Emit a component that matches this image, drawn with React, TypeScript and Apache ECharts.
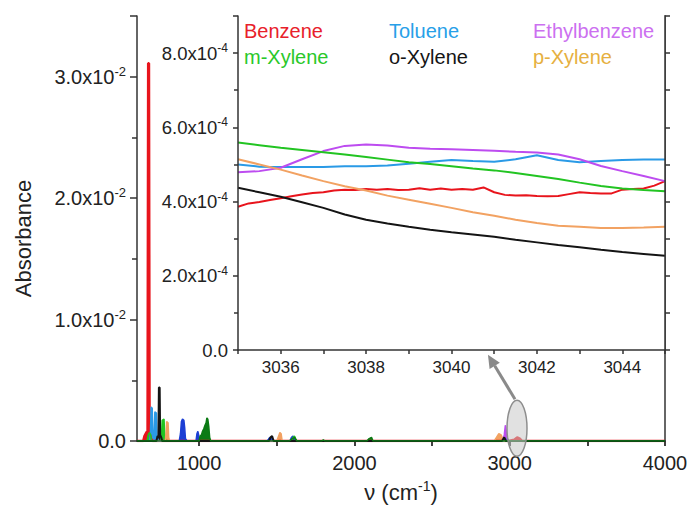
import React, { useEffect, useRef } from "react";
import * as echarts from "echarts";

const FONT = '"Liberation Sans", Arial, Helvetica, sans-serif';

// ---------- Main spectrum (wavenumber cm^-1, absorbance) ----------
const benzeneFull = [[600, 0], [640, 0], [648, 0.0004], [660, 0.0007], [668, 0.0008], [672, 0.0311], [677, 0.0311], [681, 0.0006], [690, 0.0002], [700, 0], [2990, 0], [3030, 0.0001], [3048, 0.0003], [3065, 0.0002], [3080, 0], [4000, 0]];
const tolueneFull = [[600, 0], [682, 0], [687, 0.0008], [691, 0.0028], [698, 0.0027], [702, 0.0006], [710, 0.0004], [715, 0.0024], [725, 0.0023], [729, 0.0003], [740, 0], [1440, 0], [1450, 0.0002], [1462, 0.0002], [1475, 0], [2960, 0], [2975, 0.0002], [2990, 0.0001], [3000, 0], [4000, 0]];
const bandSetA = [[600, 0], [872, 0], [880, 0.0006], [886, 0.0016], [893, 0.0018], [902, 0.0017], [907, 0.0011], [912, 0.0002], [922, 0], [980, 0], [986, 0.0006], [992, 0.0008], [997, 0.0005], [1002, 0], [1440, 0], [1455, 0.0003], [1470, 0.0001], [1480, 0], [1585, 0], [1595, 0.0003], [1605, 0.0004], [1615, 0.0001], [1625, 0], [2975, 0], [2985, 0.0002], [2995, 0], [4000, 0]];
const mXyleneFull = [[600, 0], [665, 0], [672, 0.0005], [680, 0.0007], [688, 0.0005], [694, 0], [750, 0], [758, 0.0004], [762, 0.0017], [774, 0.0018], [779, 0.0004], [786, 0], [1595, 0], [1605, 0.0003], [1615, 0.0004], [1625, 0], [4000, 0]];
const oXyleneFull = [[600, 0], [725, 0], [732, 0.0004], [738, 0.0004], [741, 0.0044], [746, 0.0044], [749, 0.0005], [756, 0.0003], [762, 0], [1450, 0], [1460, 0.0003], [1470, 0.0004], [1480, 0], [2950, 0], [2965, 0.0003], [2975, 0], [4000, 0]];
const pXyleneFull = [[600, 0], [782, 0], [788, 0.0008], [791, 0.0016], [800, 0.0015], [804, 0.0003], [810, 0], [1500, 0], [1512, 0.0004], [1520, 0.0007], [1528, 0.0006], [1535, 0], [2900, 0], [2915, 0.0003], [2930, 0.0006], [2945, 0.0005], [2955, 0.0002], [2965, 0], [4000, 0]];
const ethylbenzeneFull = [[600, 0], [2955, 0], [2965, 0.0005], [2972, 0.0013], [2978, 0.0008], [2985, 0], [4000, 0]];
const bandSetB = [[600, 0], [1000, 0], [1006, 0.0004], [1015, 0.0005], [1022, 0.0008], [1030, 0.001], [1038, 0.0013], [1045, 0.0015], [1050, 0.0019], [1056, 0.0018], [1062, 0.0012], [1068, 0.0003], [1075, 0], [1580, 0], [1600, 0.0002], [1615, 0.0003], [1630, 0], [1790, 0], [1800, 0.0001], [1810, 0], [2080, 0], [2095, 0.0002], [2110, 0.0003], [2120, 0], [4000, 0]];

const mainXLabels = [1000, 2000, 3000, 4000];
const mainXTicks = [1000, 1500, 2000, 2500, 3000, 3500, 4000];

// ---------- Inset (3035-3045 cm^-1), values in units of 1e-4 ----------
const insetX = [3035, 3035.5, 3036, 3036.5, 3037, 3037.5, 3038, 3038.5, 3039, 3039.5, 3040, 3040.5, 3041, 3041.5, 3042, 3042.5, 3043, 3043.5, 3044, 3044.5, 3045];
const insetXFine = [3035, 3035.25, 3035.5, 3035.75, 3036, 3036.25, 3036.5, 3036.75, 3037, 3037.25, 3037.5, 3037.75, 3038, 3038.25, 3038.5, 3038.75, 3039, 3039.25, 3039.5, 3039.75, 3040, 3040.25, 3040.5, 3040.75, 3041, 3041.25, 3041.5, 3041.75, 3042, 3042.25, 3042.5, 3042.75, 3043, 3043.25, 3043.5, 3043.75, 3044, 3044.25, 3044.5, 3044.75, 3045];
const benzeneInset = [3.86, 3.95, 3.99, 4.04, 4.09, 4.14, 4.19, 4.23, 4.25, 4.3, 4.32, 4.31, 4.34, 4.32, 4.34, 4.31, 4.32, 4.36, 4.32, 4.35, 4.32, 4.34, 4.32, 4.38, 4.25, 4.18, 4.16, 4.17, 4.15, 4.14, 4.15, 4.2, 4.25, 4.23, 4.22, 4.22, 4.32, 4.34, 4.35, 4.43, 4.55];
const tolueneInset = [5.0, 4.94, 4.93, 4.93, 4.93, 4.95, 4.95, 4.97, 5.02, 5.07, 5.12, 5.09, 5.07, 5.14, 5.25, 5.12, 5.06, 5.09, 5.12, 5.13, 5.13];
const ethylbenzeneInset = [4.79, 4.82, 4.91, 5.14, 5.36, 5.5, 5.54, 5.51, 5.45, 5.42, 5.41, 5.39, 5.37, 5.34, 5.32, 5.27, 5.14, 4.96, 4.82, 4.69, 4.55];
const mXyleneInset = [5.59, 5.52, 5.45, 5.39, 5.33, 5.27, 5.2, 5.13, 5.06, 5.01, 4.95, 4.89, 4.84, 4.77, 4.69, 4.61, 4.51, 4.42, 4.35, 4.31, 4.28];
const oXyleneInset = [4.37, 4.25, 4.13, 3.98, 3.83, 3.65, 3.51, 3.41, 3.32, 3.24, 3.17, 3.11, 3.05, 2.97, 2.9, 2.83, 2.77, 2.7, 2.64, 2.59, 2.54];
const pXyleneInset = [5.14, 5.0, 4.86, 4.7, 4.55, 4.41, 4.3, 4.16, 4.05, 3.94, 3.83, 3.71, 3.62, 3.51, 3.42, 3.35, 3.32, 3.29, 3.29, 3.3, 3.32];

const legendNames = ["Benzene", "Toluene", "Ethylbenzene", "m-Xylene", "o-Xylene", "p-Xylene"];

const C = {
  red: "#e8141c",
  blue: "#2a9ae6",
  purple: "#bd4cf0",
  green: "#22c422",
  black: "#141414",
  orange: "#f2a262",
  darkBlue: "#1c3fd4",
  darkGreen: "#0b7a14",
};
const legendColors = ["#e8202a", "#27a0e8", "#cc70f0", "#2ac82a", "#151515", "#e6b040"];

const axisLineStyle = { color: "#333", width: 1.5 };

export default function App() {
  const ref = useRef<HTMLDivElement>(null);

  useEffect(() => {
    const chart = echarts.init(ref.current!, null, { renderer: "svg" });

    const mainSeries = (name: string, data: number[][], color: string, width = 1.5) => ({
      type: "line",
      name,
      xAxisIndex: 0,
      yAxisIndex: 0,
      data,
      symbol: "none",
      showSymbol: false,
      silent: true,
      lineStyle: { color, width },
      itemStyle: { color },
      areaStyle: { color, opacity: 1 },
      z: 3,
    });
    const insetSeries = (name: string, xs: number[], vals: number[], color: string) => ({
      type: "line",
      name,
      xAxisIndex: 2,
      yAxisIndex: 2,
      data: xs.map((x, i) => [x, vals[i] * 1e-4]),
      symbol: "none",
      showSymbol: false,
      silent: true,
      lineStyle: { color, width: 2 },
      itemStyle: { color },
      z: 6,
    });

    const legendPos = [
      [239, 21], [384, 21], [528, 21],
      [239, 47], [384, 47], [528, 47],
    ];

    const option: any = {
      animation: false,
      backgroundColor: "#fff",
      textStyle: { fontFamily: FONT },
      legend: legendNames.map((n, i) => ({
        left: legendPos[i][0],
        top: legendPos[i][1],
        icon: "none",
        itemWidth: 0,
        itemHeight: 0,
        padding: 0,
        selectedMode: false,
        data: [{ name: n, textStyle: { color: legendColors[i] } }],
        textStyle: { fontSize: 20, fontFamily: FONT, color: legendColors[i] },
        z: 20,
      })),
      grid: [
        { left: 137, top: 16, width: 528, height: 428, containLabel: false },
        { left: 238, top: 16, width: 427, height: 334, show: true, backgroundColor: "#fff", borderWidth: 0, z: 4 },
      ],
      xAxis: [
        {
          type: "value", gridIndex: 0, min: 600, max: 4000, position: "bottom",
          name: "{a|\u03bd (cm}{s|-1}{a|)}", nameLocation: "middle", nameGap: 38,
          nameTextStyle: {
            rich: {
              a: { fontSize: 22, fontFamily: FONT, color: "#222", lineHeight: 26 },
              s: { fontSize: 14, fontFamily: FONT, color: "#222", verticalAlign: "top", lineHeight: 15 },
            },
          },
          axisLine: { show: true, lineStyle: axisLineStyle },
          axisTick: { show: true, inside: false, length: 5, customValues: mainXTicks, lineStyle: axisLineStyle },
          axisLabel: {
            customValues: mainXLabels, fontSize: 20, fontFamily: FONT, color: "#222", margin: 12,
            formatter: (v: number) => String(v),
          },
          splitLine: { show: false },
        },
        {
          type: "value", gridIndex: 0, min: 600, max: 4000, position: "top",
          axisLine: { show: true, lineStyle: axisLineStyle },
          axisTick: { show: true, inside: true, length: 5, customValues: mainXTicks, lineStyle: axisLineStyle },
          axisLabel: { show: false },
          splitLine: { show: false },
        },
        {
          type: "value", gridIndex: 1, min: 3035, max: 3045, interval: 1, position: "bottom",
          axisLine: { show: true, onZero: false, lineStyle: axisLineStyle },
          axisTick: { show: true, inside: false, length: 4, lineStyle: axisLineStyle },
          axisLabel: {
            fontSize: 17, fontFamily: FONT, color: "#222", margin: 9,
            formatter: (v: number) => (Math.round(v) % 2 === 0 && v > 3035 && v < 3045 ? String(v) : ""),
          },
          splitLine: { show: false },
          z: 7,
        },
      ],
      yAxis: [
        {
          type: "value", gridIndex: 0, min: 0, max: 0.035, interval: 0.01, position: "left",
          name: "Absorbance", nameLocation: "middle", nameRotate: 90, nameGap: 103,
          nameTextStyle: { fontSize: 22, fontFamily: FONT, color: "#222", padding: [0, 20, 0, 0] },
          axisLine: { show: true, lineStyle: axisLineStyle },
          axisTick: { show: true, inside: false, length: 7, lineStyle: axisLineStyle },
          minorTick: { show: true, splitNumber: 2, length: 5, lineStyle: axisLineStyle },
          axisLabel: {
            margin: 11,
            showMaxLabel: false,
            formatter: (v: number) => (v === 0 ? "{b|0.0}" : `{b|${(v / 0.01).toFixed(1)}x10}{s|-2}`),
            rich: {
              b: { fontSize: 20, fontFamily: FONT, color: "#222", lineHeight: 24 },
              s: { fontSize: 13, fontFamily: FONT, color: "#222", verticalAlign: "top", lineHeight: 14 },
            },
          },
          splitLine: { show: false },
        },
        {
          type: "value", gridIndex: 0, min: 0, max: 0.035, position: "right",
          axisLine: { show: true, lineStyle: axisLineStyle },
          axisTick: { show: false },
          axisLabel: { show: false },
          splitLine: { show: false },
        },
        {
          type: "value", gridIndex: 1, min: 0, max: 0.0009, interval: 0.0002, position: "left",
          axisLine: { show: true, onZero: false, lineStyle: axisLineStyle },
          axisTick: { show: true, inside: false, length: 5, lineStyle: axisLineStyle },
          minorTick: { show: true, splitNumber: 2, length: 4, lineStyle: axisLineStyle },
          axisLabel: {
            margin: 10,
            showMaxLabel: false,
            formatter: (v: number) => (v === 0 ? "{b|0.0}" : `{b|${(v / 1e-4).toFixed(1)}x10}{s|-4}`),
            rich: {
              b: { fontSize: 18.5, fontFamily: FONT, color: "#222", lineHeight: 22 },
              s: { fontSize: 12, fontFamily: FONT, color: "#222", verticalAlign: "top", lineHeight: 13 },
            },
          },
          splitLine: { show: false },
          z: 7,
        },
        {
          type: "value", gridIndex: 1, min: 0, max: 0.0009, interval: 0.0001, position: "right",
          axisLine: { show: true, onZero: false, lineStyle: axisLineStyle },
          axisTick: { show: true, inside: false, length: 5, lineStyle: axisLineStyle },
          axisLabel: { show: false },
          splitLine: { show: false },
          z: 7,
        },
      ],
      series: [
        mainSeries("Benzene (full)", benzeneFull, C.red, 2.5),
        mainSeries("Toluene (full)", tolueneFull, C.blue),
        mainSeries("Band set A", bandSetA, C.darkBlue),
        mainSeries("m-Xylene (full)", mXyleneFull, C.green),
        mainSeries("p-Xylene (full)", pXyleneFull, C.orange),
        mainSeries("Ethylbenzene (full)", ethylbenzeneFull, C.purple),
        mainSeries("o-Xylene (full)", oXyleneFull, C.black, 2),
        mainSeries("Band set B", bandSetB, C.darkGreen),
        insetSeries("Benzene", insetXFine, benzeneInset, C.red),
        insetSeries("Toluene", insetX, tolueneInset, C.blue),
        insetSeries("Ethylbenzene", insetX, ethylbenzeneInset, C.purple),
        insetSeries("m-Xylene", insetX, mXyleneInset, C.green),
        insetSeries("o-Xylene", insetX, oXyleneInset, C.black),
        insetSeries("p-Xylene", insetX, pXyleneInset, C.orange),
      ],
    };

    chart.setOption(option);

    // Annotation: ellipse around the 3000 cm^-1 band and arrow pointing to the inset
    const px = (pt: number[]) => chart.convertToPixel({ xAxisIndex: 0, yAxisIndex: 0 }, pt) as number[];
    const ec = px([3047, 0.00105]);
    const a0 = px([3034, 0.00344]);
    const a1 = px([2860, 0.00711]);
    const dx = a1[0] - a0[0];
    const dy = a1[1] - a0[1];
    const len = Math.hypot(dx, dy);
    const ux = dx / len;
    const uy = dy / len;
    const headL = 13;
    const headW = 6;
    const base = [a1[0] - ux * headL, a1[1] - uy * headL];
    chart.setOption({
      graphic: [
        {
          type: "ellipse",
          shape: { cx: ec[0], cy: ec[1], rx: 10, ry: 28 },
          style: { fill: "rgba(200,200,200,0.55)", stroke: "#8e8e8e", lineWidth: 1.5 },
          z: 50,
          silent: true,
        },
        {
          type: "line",
          shape: { x1: a0[0], y1: a0[1], x2: base[0], y2: base[1] },
          style: { stroke: "#8a8a8a", lineWidth: 3 },
          z: 50,
          silent: true,
        },
        {
          type: "polygon",
          shape: {
            points: [
              [a1[0], a1[1]],
              [base[0] - uy * headW, base[1] + ux * headW],
              [base[0] + uy * headW, base[1] - ux * headW],
            ],
          },
          style: { fill: "#8a8a8a" },
          z: 50,
          silent: true,
        },
      ],
    });

    return () => chart.dispose();
  }, []);

  return (
    <div
      ref={ref}
      style={{ position: "fixed", left: 0, top: 0, width: 692, height: 508, background: "#fff" }}
    />
  );
}
